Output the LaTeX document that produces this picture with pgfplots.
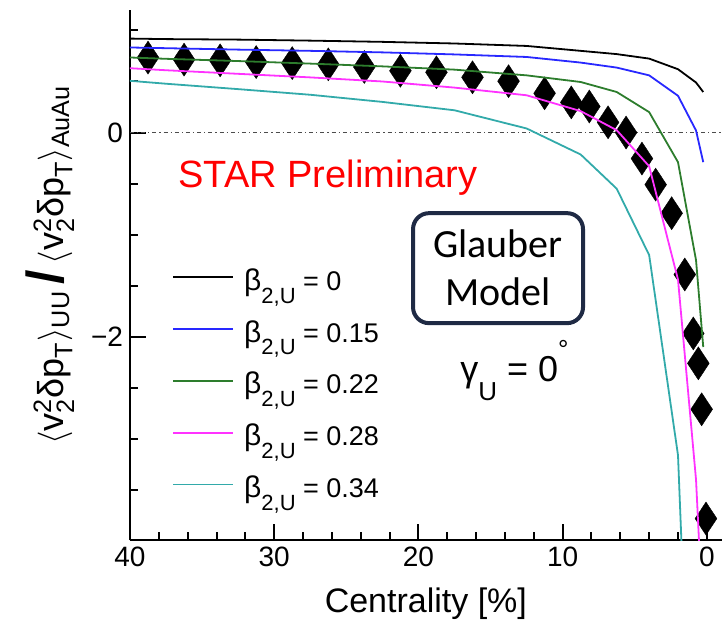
\documentclass[border=0pt]{standalone}
\usepackage{pgfplots}
\pgfplotsset{compat=1.18}
\usepackage{amsmath}
\usepackage{fontspec}
\setmainfont{Liberation Sans}
\newfontfamily\calibri{Carlito}
\usetikzlibrary{calc}
\definecolor{cblue}{RGB}{40,40,255}
\definecolor{cgreen}{RGB}{45,125,45}
\definecolor{cmag}{RGB}{255,50,255}
\definecolor{ccyan}{RGB}{50,170,170}
\definecolor{navy}{RGB}{31,42,68}
\newcommand{\bU}[1]{{\fontsize{15}{15}\selectfont β}\raisebox{-0.9ex}{\fontsize{11}{11}\selectfont 2,U}\ =\ #1}
\begin{document}
\begin{tikzpicture}
\begin{axis}[
  name=ax,
  scale only axis, width=295.85pt, height=265pt,
  x dir=reverse, xmin=-1.03, xmax=40, ymin=-3.99, ymax=1.2,
  axis x line*=bottom, axis y line*=left,
  axis line style={line width=1pt},
  tick align=inside,
  every tick/.style={black, line width=1pt},
  major tick length=8pt, minor tick length=4pt,
  xtick={0,10,20,30,40}, xticklabels={0,10,20,30,40},
  minor xtick={2,4,6,8,12,14,16,18,22,24,26,28,32,34,36,38},
  ytick={-2,0}, yticklabels={−2,0},
  minor ytick={-3.5,-3,-2.5,-1.5,-1,-0.5,0.5,1},
  tick label style={font=\fontsize{14}{14}\selectfont},
  xlabel={Centrality [\%]},
  xlabel style={font=\fontsize{17}{17}\selectfont, at={(axis description cs:0.5,0)}, anchor=base, yshift=-36pt},
  ylabel={$\langle\text{v}^{\text{2}}_{\text{2}}\text{δp}_{\text{T}}\rangle_{\text{UU}}$\,{\fontsize{26}{26}\selectfont\bfseries /}\,$\langle\text{v}^{\text{2}}_{\text{2}}\text{δp}_{\text{T}}\rangle_{\text{AuAu}}$},
  ylabel style={font=\fontsize{18}{18}\selectfont, at={(axis description cs:-0.135,0.519)}, anchor=center},
  clip mode=individual,
  legend image code/.code={\draw[#1] (0pt,4.5pt) -- (30pt,4.5pt); \path (35pt,0pt);},
  legend cell align=left,
  legend style={at={(axis description cs:0.071,0.506)}, anchor=north west, draw=none, fill=none,
    inner sep=0pt, row sep=11.9pt, font=\fontsize{13.5}{13.5}\selectfont,
    nodes={inner sep=0pt, text height=9pt, text depth=5pt}},
]
\addplot[dash pattern=on 2pt off 1.5pt on 0.6pt off 1.5pt, black!70, line width=0.6pt, forget plot] coordinates {(40,0) (-1.03,0)};
\addplot[only marks, mark=diamond*, mark size=8.25pt, mark options={xscale=0.88, fill=black, draw=black, line width=0.2pt}, forget plot] table {
x y
38.75 0.734
36.25 0.714
33.75 0.707
31.25 0.690
28.75 0.680
26.25 0.668
23.75 0.642
21.25 0.605
18.75 0.590
16.25 0.541
13.75 0.503
11.25 0.384
9.40 0.295
8.15 0.255
6.85 0.100
5.60 0.000
4.50 -0.255
3.55 -0.510
2.44 -0.790
1.53 -1.390
0.94 -1.967
0.59 -2.260
0.36 -2.710
0.06 -3.780
};
\addplot[black, line width=0.9pt] table {
x y
42.5 0.925
37.5 0.915
32.5 0.910
27.5 0.900
22.5 0.888
17.5 0.872
12.5 0.848
8.75 0.800
6.25 0.768
4 0.724
2 0.620
0.75 0.490
0.25 0.397
};
\addlegendentry{\bU{0}}
\addplot[cblue, line width=0.9pt] table {
x y
42.5 0.840
37.5 0.826
32.5 0.812
27.5 0.800
22.5 0.785
17.5 0.765
12.5 0.740
8.75 0.685
6.25 0.636
4 0.560
2 0.360
0.75 0.020
0.25 -0.290
};
\addlegendentry{\bU{0.15}}
\addplot[cgreen, line width=0.9pt] table {
x y
42.5 0.748
37.5 0.722
32.5 0.700
27.5 0.675
22.5 0.648
17.5 0.616
12.5 0.560
8.75 0.495
6.25 0.397
4 0.200
2 -0.290
0.75 -1.250
0.25 -2.100
};
\addlegendentry{\bU{0.22}}
\addplot[cmag, line width=0.9pt] table {
x y
42.5 0.650
37.5 0.610
32.5 0.575
27.5 0.540
22.5 0.500
17.5 0.440
12.5 0.365
8.75 0.210
6.25 0.023
4 -0.330
2 -1.440
0.75 -3.400
0.25 -4.850
};
\addlegendentry{\bU{0.28}}
\addplot[ccyan, line width=0.9pt] table {
x y
42.5 0.535
37.5 0.478
32.5 0.425
27.5 0.370
22.5 0.300
17.5 0.218
12.5 0.040
8.75 -0.215
6.25 -0.550
4 -1.200
2 -3.160
0.75 -7.600
};
\addlegendentry{\bU{0.34}}
\node[anchor=base west, text=red, font=\fontsize{19}{19}\selectfont, inner sep=0pt] at (axis cs:36.67,-0.535) {STAR Preliminary};
\node[draw=navy, line width=2pt, rounded corners=8pt, minimum width=85pt, minimum height=55pt, align=center, font=\calibri\fontsize{20}{24}\selectfont, inner sep=2pt] at (axis cs:14.48,-1.328) {Glauber\\Model};
\node[anchor=base west, font=\fontsize{18}{18}\selectfont, inner sep=0pt] at (axis cs:17.12,-2.44) {γ\raisebox{-1.0ex}{\fontsize{13}{13}\selectfont U}\ =\ 0\raisebox{1.2ex}{\fontsize{13}{13}\selectfont °}};
\end{axis}
\pgfresetboundingbox
\path ($(ax.south west)+(-65pt,-39.5pt)$) rectangle ($(ax.north east)+(1.65pt,5pt)$);
\end{tikzpicture}
\end{document}
